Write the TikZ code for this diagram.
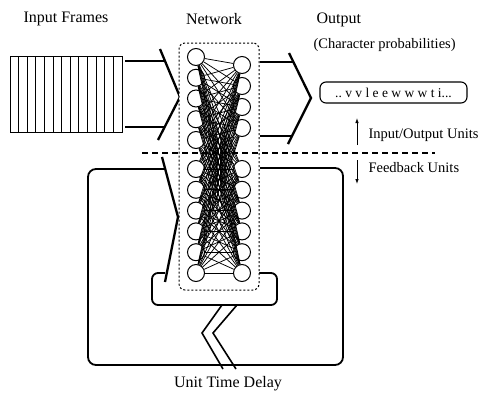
\documentclass[tikz,border=0pt]{standalone}
\usepackage{fontspec}
\setmainfont{Liberation Serif}
\usetikzlibrary{arrows.meta}
\begin{document}
\begin{tikzpicture}[x=1pt,y=-1pt,
  unit/.style={circle,draw,line width=1pt,minimum size=17pt,inner sep=0pt,fill=white},
  heavy/.style={line width=2.3pt,line join=miter},
  loopline/.style={line width=1.8pt},
  link/.style={line width=0.75pt},
  ttl/.style={font=\fontsize{16}{18}\selectfont},
  lbl/.style={font=\fontsize{14.5}{16}\selectfont},
  netbox/.style={draw,dash pattern=on 2pt off 2pt,line width=1pt,rounded corners=6pt,fill=white,minimum width=80pt,minimum height=247pt,inner sep=0pt},
  udarrow/.style={-{Latex[length=5pt,width=3.5pt]},line width=0.8pt}]
\useasboundingbox (0,0) rectangle (483,392);
% titles
\node[ttl] (tin) at (66,19) {Input Frames};
\node[ttl] (tnet) at (214,19) {Network};
\node[ttl,anchor=west] (tout) at (313,20) {Output};
\node[lbl,anchor=west] (tchar) at (310,45) {(Character probabilities)};
% input frames
\draw[line width=0.9pt] (10,56) rectangle (122,132);
\foreach \i in {1,...,12} \draw[line width=0.9pt] (10+\i*8.615,56) -- ++(0,76);
\draw[heavy] (125,61) -- (165,61);
\draw[heavy] (125,127) -- (165,127);
\draw[heavy] (160,49) -- (180,97) -- (158,140);
% feedback loop
\draw[loopline,rounded corners=8pt] (165,169) -- (88,169) -- (88,365) -- (343,365) -- (343,168) -- (260,168);
\draw[loopline,rounded corners=6pt] (165,273) -- (152,273) -- (152,305) -- (277,305) -- (277,273) -- (259,273);
\draw[heavy] (162,157) -- (178,217) -- (165,282);
% unit time delay
\draw[line width=1.6pt] (222,305) -- (202,333) -- (223,369);
\draw[line width=1.6pt] (237,305) -- (213,333) -- (236,369);
\node[ttl] (tdelay) at (228,384) {Unit Time Delay};
% network
\node[netbox] (net) at (219,166.5) {};
\foreach \y [count=\i] in {57,77.75,98.5,119.25,140,169,189.8,210.6,231.4,252.2,273}
  \node[unit] (L\i) at (196,\y) {};
\foreach \y [count=\i] in {65,86,107,128,169,189.8,210.6,231.4,252.2,273}
  \node[unit] (R\i) at (242,\y) {};
\foreach \i in {1,...,11} \foreach \j in {1,...,10} \draw[link] (L\i) -- (R\j);
% separator
\draw[dash pattern=on 6pt off 4pt,line width=1.3pt] (142,153) -- (435,153);
% output
\draw[heavy] (260,62) -- (293,62);
\draw[heavy] (260,136) -- (292,136);
\draw[heavy] (289,53) -- (311,98) -- (288,144);
\node[draw,rounded corners=6pt,line width=1.1pt,minimum width=147pt,minimum height=21pt,inner sep=0pt,font=\fontsize{13.5}{15}\selectfont] (obox) at (393.5,92.5) {..~v~v~l~e~e~w~w~w~t~i...};
% unit labels
\coordinate (ua1) at (357,145);
\coordinate (ua2) at (357,118);
\coordinate (da1) at (357,160);
\coordinate (da2) at (357,184);
\draw[udarrow] (ua1) -- (ua2);
\draw[udarrow] (da1) -- (da2);
\node[lbl,anchor=west] (tio) at (365,135) {Input/Output Units};
\node[lbl,anchor=west] (tfb) at (365,168) {Feedback Units};
\end{tikzpicture}
\end{document}
